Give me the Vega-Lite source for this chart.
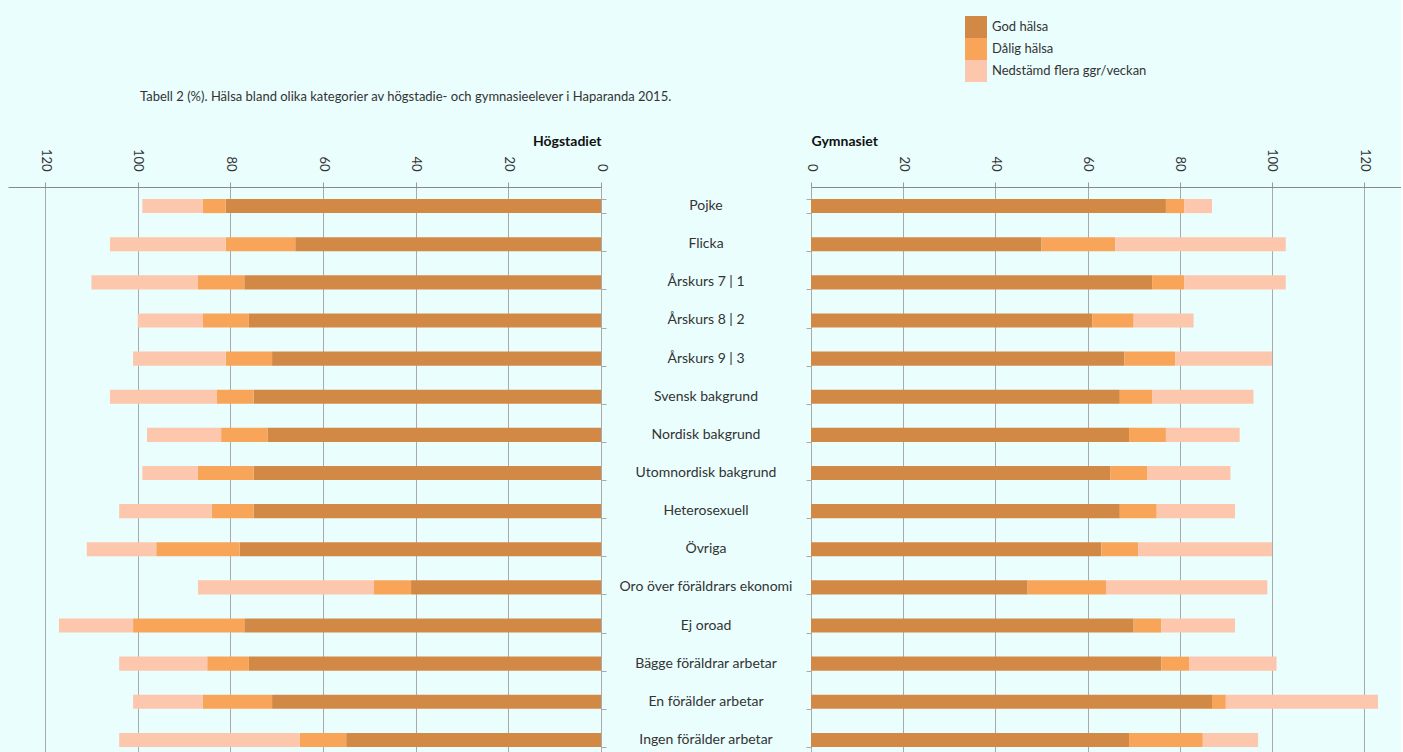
{
  "$schema": "https://vega.github.io/schema/vega-lite/v6.json",
  "background": "#EAFEFD",
  "padding": {"left": 8, "top": 16, "right": 0, "bottom": 0},
  "bounds": "flush",
  "spacing": 0,
  "data": {
    "values": [
      {"g": "Pojke", "s": "H", "God hälsa": 81, "Dålig hälsa": 5, "Nedstämd flera ggr/veckan": 13},
      {"g": "Flicka", "s": "H", "God hälsa": 66, "Dålig hälsa": 15, "Nedstämd flera ggr/veckan": 25},
      {"g": "Årskurs 7 | 1", "s": "H", "God hälsa": 77, "Dålig hälsa": 10, "Nedstämd flera ggr/veckan": 23},
      {"g": "Årskurs 8 | 2", "s": "H", "God hälsa": 76, "Dålig hälsa": 10, "Nedstämd flera ggr/veckan": 14},
      {"g": "Årskurs 9 | 3", "s": "H", "God hälsa": 71, "Dålig hälsa": 10, "Nedstämd flera ggr/veckan": 20},
      {"g": "Svensk bakgrund", "s": "H", "God hälsa": 75, "Dålig hälsa": 8, "Nedstämd flera ggr/veckan": 23},
      {"g": "Nordisk bakgrund", "s": "H", "God hälsa": 72, "Dålig hälsa": 10, "Nedstämd flera ggr/veckan": 16},
      {"g": "Utomnordisk bakgrund", "s": "H", "God hälsa": 75, "Dålig hälsa": 12, "Nedstämd flera ggr/veckan": 12},
      {"g": "Heterosexuell", "s": "H", "God hälsa": 75, "Dålig hälsa": 9, "Nedstämd flera ggr/veckan": 20},
      {"g": "Övriga", "s": "H", "God hälsa": 78, "Dålig hälsa": 18, "Nedstämd flera ggr/veckan": 15},
      {"g": "Oro över föräldrars ekonomi", "s": "H", "God hälsa": 41, "Dålig hälsa": 8, "Nedstämd flera ggr/veckan": 38},
      {"g": "Ej oroad", "s": "H", "God hälsa": 77, "Dålig hälsa": 24, "Nedstämd flera ggr/veckan": 16},
      {"g": "Bägge föräldrar arbetar", "s": "H", "God hälsa": 76, "Dålig hälsa": 9, "Nedstämd flera ggr/veckan": 19},
      {"g": "En förälder arbetar", "s": "H", "God hälsa": 71, "Dålig hälsa": 15, "Nedstämd flera ggr/veckan": 15},
      {"g": "Ingen förälder arbetar", "s": "H", "God hälsa": 55, "Dålig hälsa": 10, "Nedstämd flera ggr/veckan": 39},
      {"g": "Pojke", "s": "G", "God hälsa": 77, "Dålig hälsa": 4, "Nedstämd flera ggr/veckan": 6},
      {"g": "Flicka", "s": "G", "God hälsa": 50, "Dålig hälsa": 16, "Nedstämd flera ggr/veckan": 37},
      {"g": "Årskurs 7 | 1", "s": "G", "God hälsa": 74, "Dålig hälsa": 7, "Nedstämd flera ggr/veckan": 22},
      {"g": "Årskurs 8 | 2", "s": "G", "God hälsa": 61, "Dålig hälsa": 9, "Nedstämd flera ggr/veckan": 13},
      {"g": "Årskurs 9 | 3", "s": "G", "God hälsa": 68, "Dålig hälsa": 11, "Nedstämd flera ggr/veckan": 21},
      {"g": "Svensk bakgrund", "s": "G", "God hälsa": 67, "Dålig hälsa": 7, "Nedstämd flera ggr/veckan": 22},
      {"g": "Nordisk bakgrund", "s": "G", "God hälsa": 69, "Dålig hälsa": 8, "Nedstämd flera ggr/veckan": 16},
      {"g": "Utomnordisk bakgrund", "s": "G", "God hälsa": 65, "Dålig hälsa": 8, "Nedstämd flera ggr/veckan": 18},
      {"g": "Heterosexuell", "s": "G", "God hälsa": 67, "Dålig hälsa": 8, "Nedstämd flera ggr/veckan": 17},
      {"g": "Övriga", "s": "G", "God hälsa": 63, "Dålig hälsa": 8, "Nedstämd flera ggr/veckan": 29},
      {"g": "Oro över föräldrars ekonomi", "s": "G", "God hälsa": 47, "Dålig hälsa": 17, "Nedstämd flera ggr/veckan": 35},
      {"g": "Ej oroad", "s": "G", "God hälsa": 70, "Dålig hälsa": 6, "Nedstämd flera ggr/veckan": 16},
      {"g": "Bägge föräldrar arbetar", "s": "G", "God hälsa": 76, "Dålig hälsa": 6, "Nedstämd flera ggr/veckan": 19},
      {"g": "En förälder arbetar", "s": "G", "God hälsa": 87, "Dålig hälsa": 3, "Nedstämd flera ggr/veckan": 33},
      {"g": "Ingen förälder arbetar", "s": "G", "God hälsa": 69, "Dålig hälsa": 16, "Nedstämd flera ggr/veckan": 12}
    ]
  },
  "transform": [
    {"fold": ["God hälsa", "Dålig hälsa", "Nedstämd flera ggr/veckan"], "as": ["key", "v"]},
    {"calculate": "indexof(['God hälsa','Dålig hälsa','Nedstämd flera ggr/veckan'], datum.key)", "as": "o"}
  ],
  "config": {
    "view": {"stroke": null},
    "font": "Lato",
    "axis": {
      "labelFont": "Lato", "labelFontSize": 13, "labelColor": "#333",
      "titleFont": "Lato", "titleFontSize": 14, "titleFontWeight": "bold", "titleColor": "#111",
      "tickColor": "#999", "domainColor": "#888", "gridColor": "#aaa", "gridOpacity": 1
    }
  },
  "hconcat": [
    {
      "width": 593,
      "height": 572,
      "title": {"text": "Tabell 2 (%). Hälsa bland olika kategorier av högstadie- och gymnasieelever i Haparanda 2015.", "anchor": "start", "dx": 132, "offset": 30, "fontSize": 13, "fontWeight": "normal", "color": "#333", "font": "Lato"},
      "transform": [{"filter": "datum.s == 'H'"}],
      "mark": {"type": "bar"},
      "encoding": {
        "y": {
          "field": "g", "type": "nominal",
          "sort": ["Pojke", "Flicka", "Årskurs 7 | 1", "Årskurs 8 | 2", "Årskurs 9 | 3", "Svensk bakgrund", "Nordisk bakgrund", "Utomnordisk bakgrund", "Heterosexuell", "Övriga", "Oro över föräldrars ekonomi", "Ej oroad", "Bägge föräldrar arbetar", "En förälder arbetar", "Ingen förälder arbetar"],
          "scale": {"paddingInner": 0.63, "paddingOuter": 0.315},
          "axis": {"orient": "right", "labels": false, "domain": false, "ticks": true, "tickBand": "extent", "tickSize": 5, "tickColor": "#aaa", "title": null, "grid": false}
        },
        "x": {
          "field": "v", "type": "quantitative", "stack": "zero",
          "scale": {"domain": [0, 128], "nice": false, "reverse": true},
          "axis": {"orient": "top", "values": [0, 20, 40, 60, 80, 100, 120], "labelAngle": 90, "labelPadding": 11, "tickSize": 5, "grid": true, "title": "Högstadiet", "titleAnchor": "start", "titleAlign": "right", "titlePadding": 0}
        },
        "color": {
          "field": "key", "type": "nominal",
          "scale": {"domain": ["God hälsa", "Dålig hälsa", "Nedstämd flera ggr/veckan"], "range": ["#D38946", "#F8A55A", "#FCC7AD"]},
          "legend": {"title": null, "orient": "none", "legendX": 957, "legendY": -171, "symbolType": "square", "symbolSize": 484, "symbolStrokeWidth": 0, "symbolOpacity": 1, "labelFontSize": 13, "labelColor": "#333", "labelFont": "Lato", "rowPadding": 0, "labelOffset": 5}
        },
        "order": {"field": "o", "type": "quantitative"}
      }
    },
    {
      "width": 210,
      "height": 572,
      "transform": [{"filter": "datum.s == 'H' && datum.key == 'God hälsa'"}],
      "mark": {"type": "text", "fontSize": 14, "color": "#333", "font": "Lato"},
      "encoding": {
        "y": {
          "field": "g", "type": "nominal",
          "sort": ["Pojke", "Flicka", "Årskurs 7 | 1", "Årskurs 8 | 2", "Årskurs 9 | 3", "Svensk bakgrund", "Nordisk bakgrund", "Utomnordisk bakgrund", "Heterosexuell", "Övriga", "Oro över föräldrars ekonomi", "Ej oroad", "Bägge föräldrar arbetar", "En förälder arbetar", "Ingen förälder arbetar"],
          "scale": {"paddingInner": 0.63, "paddingOuter": 0.315},
          "axis": null
        },
        "text": {"field": "g", "type": "nominal"}
      }
    },
    {
      "width": 590,
      "height": 572,
      "transform": [{"filter": "datum.s == 'G'"}],
      "mark": {"type": "bar"},
      "encoding": {
        "y": {
          "field": "g", "type": "nominal",
          "sort": ["Pojke", "Flicka", "Årskurs 7 | 1", "Årskurs 8 | 2", "Årskurs 9 | 3", "Svensk bakgrund", "Nordisk bakgrund", "Utomnordisk bakgrund", "Heterosexuell", "Övriga", "Oro över föräldrars ekonomi", "Ej oroad", "Bägge föräldrar arbetar", "En förälder arbetar", "Ingen förälder arbetar"],
          "scale": {"paddingInner": 0.63, "paddingOuter": 0.315},
          "axis": {"orient": "left", "labels": false, "domain": false, "ticks": true, "tickBand": "extent", "tickSize": 5, "tickColor": "#aaa", "title": null, "grid": false}
        },
        "x": {
          "field": "v", "type": "quantitative", "stack": "zero",
          "scale": {"domain": [0, 128], "nice": false},
          "axis": {"orient": "top", "values": [0, 20, 40, 60, 80, 100, 120], "labelAngle": 90, "labelPadding": 11, "tickSize": 5, "grid": true, "title": "Gymnasiet", "titleAnchor": "start", "titlePadding": 0}
        },
        "color": {
          "field": "key", "type": "nominal",
          "scale": {"domain": ["God hälsa", "Dålig hälsa", "Nedstämd flera ggr/veckan"], "range": ["#D38946", "#F8A55A", "#FCC7AD"]},
          "legend": {"title": null, "orient": "none", "legendX": 957, "legendY": -171, "symbolType": "square", "symbolSize": 484, "symbolStrokeWidth": 0, "symbolOpacity": 1, "labelFontSize": 13, "labelColor": "#333", "labelFont": "Lato", "rowPadding": 0, "labelOffset": 5}
        },
        "order": {"field": "o", "type": "quantitative"}
      }
    }
  ]
}
